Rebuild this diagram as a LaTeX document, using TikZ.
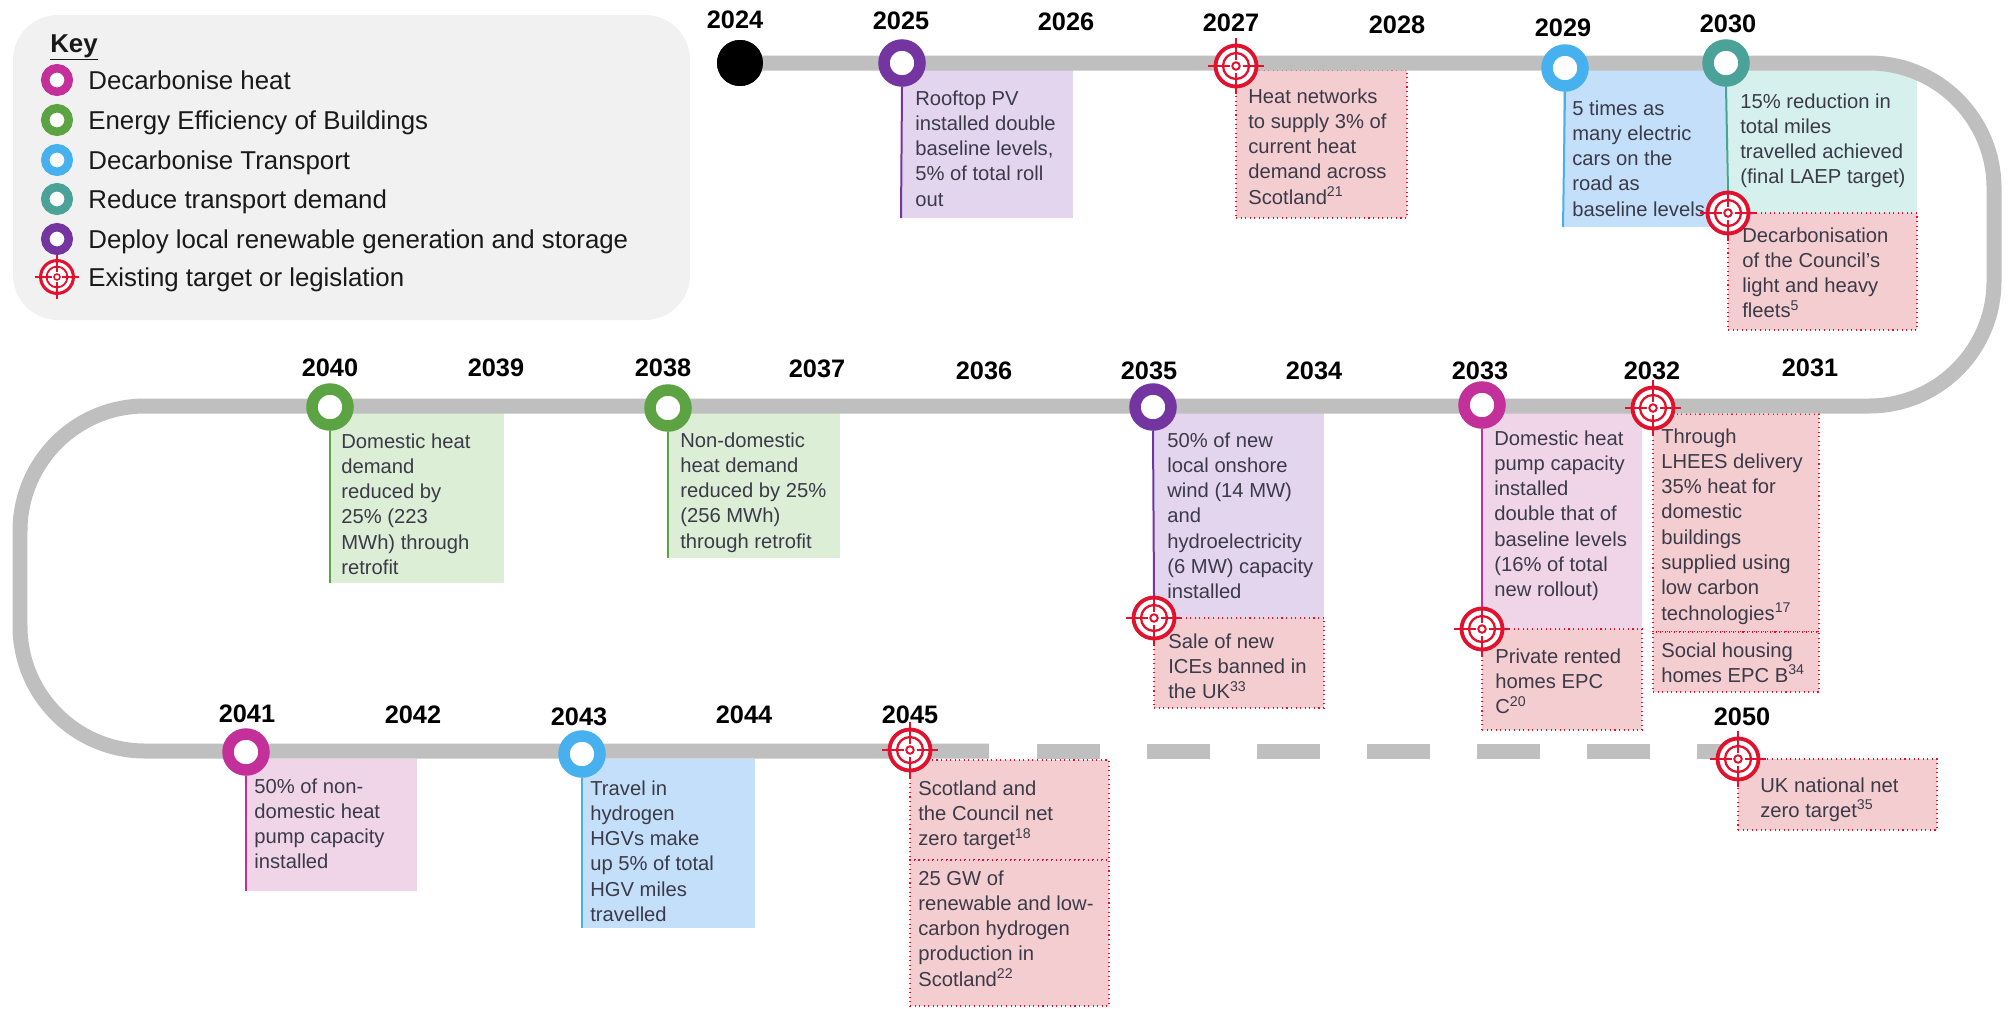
\documentclass[tikz,border=0pt]{standalone}
\usepackage{fontspec}
\setmainfont{Liberation Sans}
\usetikzlibrary{fit}

\definecolor{track}{HTML}{BFBFBF}
\definecolor{cpur}{HTML}{7535A0}
\definecolor{cmag}{HTML}{C3309A}
\definecolor{cgrn}{HTML}{5CA443}
\definecolor{cblu}{HTML}{47B1EF}
\definecolor{ctea}{HTML}{4BA299}
\definecolor{tred}{HTML}{E1122D}
\definecolor{fpur}{HTML}{E4D5EF}
\definecolor{fmag}{HTML}{F0D5E8}
\definecolor{fgrn}{HTML}{DDEED7}
\definecolor{fblu}{HTML}{C4DFFA}
\definecolor{ftea}{HTML}{D6F0ED}
\definecolor{fred}{HTML}{F4CDD0}
\definecolor{keybg}{HTML}{F1F1F1}
\definecolor{txtc}{HTML}{3A3A48}

\tikzset{
  yr/.style={font=\fontsize{14.4}{16}\selectfont\bfseries, anchor=base, inner sep=0},
  ring/.style={circle, draw=#1, line width=0.23cm, fill=white, minimum size=0.72cm, inner sep=0},
  krng/.style={circle, draw=#1, line width=0.17cm, fill=white, minimum size=0.47cm, inner sep=0},
  cbox/.style={fill=#1, draw=none, inner sep=0, outer sep=0},
  tbox/.style={fill=fred, draw=tred, dotted, line width=0.6pt, inner sep=0, outer sep=0},
  bt/.style={font=\fontsize{11.5}{14.4}\selectfont, text=txtc, align=left, anchor=north west, inner sep=0},
  kt/.style={font=\fontsize{14.7}{17}\selectfont, text=black!90, anchor=base west, inner sep=0},
  stem/.style={line width=0.04cm, draw=#1},
  trk/.style={draw=track, line width=0.3cm},
}

\newcommand{\tgt}[3][1]{%
  \node[circle, inner sep=0, minimum size=#1*0.82cm, draw=tred, line width=#1*2.2pt, fill=white] (#2) at (#3) {};
  \draw[tred, line width=#1*1.3pt] (#2.center) circle[radius=#1*0.26cm];
  \draw[tred, line width=#1*1.1pt] (#2.center) circle[radius=#1*0.075cm];
  \draw[tred, line width=#1*1.4pt]
    ([xshift=-#1*0.56cm]#2.center) -- ([xshift=-#1*0.13cm]#2.center)
    ([xshift=#1*0.13cm]#2.center) -- ([xshift=#1*0.56cm]#2.center)
    ([yshift=-#1*0.56cm]#2.center) -- ([yshift=-#1*0.13cm]#2.center)
    ([yshift=#1*0.13cm]#2.center) -- ([yshift=#1*0.56cm]#2.center);
}

\begin{document}
\begin{tikzpicture}[x=0.02cm, y=-0.02cm]
\useasboundingbox (0,0) rectangle (2011,1008);

% ---------- Key ----------
\node[fill=keybg, rounded corners=0.9cm, inner sep=0, fit={(13,15)(690,320)}] (keybox) {};
\node[kt, font=\fontsize{14.7}{17}\selectfont\bfseries] (keyt) at (50,52) {\underline{Key}};
\node[krng=cmag] (k1) at (57,80) {};
\node[krng=cgrn] (k2) at (57,120) {};
\node[krng=cblu] (k3) at (57,160) {};
\node[krng=ctea] (k4) at (57,199) {};
\node[krng=cpur] (k5) at (57,239) {};
\tgt[0.8]{k6}{57,277}
\node[kt] (kl1) at (88,89) {Decarbonise heat};
\node[kt] (kl2) at (88,129) {Energy Efficiency of Buildings};
\node[kt] (kl3) at (88,169) {Decarbonise Transport};
\node[kt] (kl4) at (88,208) {Reduce transport demand};
\node[kt] (kl5) at (88,248) {Deploy local renewable generation and storage};
\node[kt] (kl6) at (88,286) {Existing target or legislation};

% ---------- Boxes ----------
\node[cbox=fpur, fit={(901,70)(1073,218)}] (b2025) {};
\node[tbox, fit={(1236,70)(1407,218)}] (b2027) {};
\node[cbox=fblu, fit={(1563,70)(1726,227)}] (b2029) {};
\node[cbox=ftea, fit={(1726,70)(1917,213)}] (b2030a) {};
\node[tbox, fit={(1728,213)(1917,330)}] (b2030b) {};
\node[tbox, fit={(1653,414)(1819,632)}] (b2032a) {};
\node[tbox, fit={(1653,632)(1819,692)}] (b2032b) {};
\node[cbox=fmag, fit={(1482,413)(1642,629)}] (b2033a) {};
\node[tbox, fit={(1482,629)(1642,730)}] (b2033b) {};
\node[cbox=fpur, fit={(1153,413)(1324,618)}] (b2035a) {};
\node[tbox, fit={(1154,618)(1324,708)}] (b2035b) {};
\node[cbox=fgrn, fit={(668,413)(840,558)}] (b2038) {};
\node[cbox=fgrn, fit={(330,413)(504,583)}] (b2040) {};
\node[cbox=fmag, fit={(246,759)(417,891)}] (b2041) {};
\node[cbox=fblu, fit={(582,759)(755,928)}] (b2043) {};
\node[tbox, fit={(910,760)(1109,860)}] (b2045a) {};
\node[tbox, fit={(910,860)(1109,1006)}] (b2045b) {};
\node[tbox, fit={(1738,759)(1937,830)}] (b2050) {};

% ---------- Box texts ----------
\node[bt] (x2025) at (915,87) {\strut Rooftop PV\\installed double\\baseline levels,\\5\% of total roll\\out};
\node[bt] (x2027) at (1248,85) {\strut Heat networks\\to supply 3\% of\\current heat\\demand across\\Scotland\textsuperscript{21}};
\node[bt] (x2029) at (1572,97) {\strut 5 times as\\many electric\\cars on the\\road as\\baseline levels};
\node[bt] (x2030a) at (1740,90) {\strut 15\% reduction in\\total miles\\travelled achieved\\(final LAEP target)};
\node[bt] (x2030b) at (1742,224) {\strut Decarbonisation\\of the Council's\\light and heavy\\fleets\textsuperscript{5}};
\node[bt] (x2032a) at (1661,425) {\strut Through\\LHEES delivery\\35\% heat for\\domestic\\buildings\\supplied using\\low carbon\\technologies\textsuperscript{17}};
\node[bt] (x2032b) at (1661,639) {\strut Social housing\\homes EPC B\textsuperscript{34}};
\node[bt] (x2033a) at (1494,427) {\strut Domestic heat\\pump capacity\\installed\\double that of\\baseline levels\\(16\% of total\\new rollout)};
\node[bt] (x2033b) at (1495,645) {\strut Private rented\\homes EPC\\C\textsuperscript{20}};
\node[bt] (x2035a) at (1167,429) {\strut 50\% of new\\local onshore\\wind (14 MW)\\and\\hydroelectricity\\(6 MW) capacity\\installed};
\node[bt] (x2035b) at (1168,630) {\strut Sale of new\\ICEs banned in\\the UK\textsuperscript{33}};
\node[bt] (x2038) at (680,429) {\strut Non-domestic\\heat demand\\reduced by 25\%\\(256 MWh)\\through retrofit};
\node[bt] (x2040) at (341,430) {\strut Domestic heat\\demand\\reduced by\\25\% (223\\MWh) through\\retrofit};
\node[bt] (x2041) at (254,775) {\strut 50\% of non-\\domestic heat\\pump capacity\\installed};
\node[bt] (x2043) at (590,777) {\strut Travel in\\hydrogen\\HGVs make\\up 5\% of total\\HGV miles\\travelled};
\node[bt] (x2045a) at (918,777) {\strut Scotland and\\the Council net\\zero target\textsuperscript{18}};
\node[bt] (x2045b) at (918,867) {\strut 25 GW of\\renewable and low-\\carbon hydrogen\\production in\\Scotland\textsuperscript{22}};
\node[bt] (x2050) at (1760,774) {\strut UK national net\\zero target\textsuperscript{35}};

% ---------- Track ----------
\coordinate (c1) at (1994,63);
\coordinate (c2) at (1994,406);
\coordinate (c3) at (20,406);
\coordinate (c4) at (20,751);
\coordinate (c5) at (989,751);
\coordinate (c6) at (1037,751);
\coordinate (c7) at (1745,751);
\node[circle, fill=black, minimum size=0.92cm, inner sep=0] (d2024) at (740,63) {};
\draw[trk, rounded corners=2.5cm] (d2024.center) -- (c1) -- (c2) -- (c3) -- (c4) -- (c5);
\draw[trk, dash pattern=on 1.26cm off 0.94cm] (c6) -- (c7);
\node[circle, fill=black, minimum size=0.92cm, inner sep=0] at (d2024.center) {};

% ---------- Rings and targets ----------
\node[ring=cpur] (r2025) at (902,63) {};
\node[ring=cblu] (r2029) at (1565,68) {};
\node[ring=ctea] (r2030) at (1726,63) {};
\node[ring=cmag] (r2033) at (1482,405) {};
\node[ring=cpur] (r2035) at (1153,407) {};
\node[ring=cgrn] (r2038) at (668,408) {};
\node[ring=cgrn] (r2040) at (330,407) {};
\node[ring=cmag] (r2041) at (246,752) {};
\node[ring=cblu] (r2043) at (582,754) {};

\begin{scope}[on background layer/.try]
\end{scope}
\tgt{t2027}{1236,66}
\tgt{t2030}{1728,213}
\tgt{t2032}{1653,408}
\tgt{t2033}{1482,629}
\tgt{t2035}{1154,618}
\tgt{t2045}{910,750}
\tgt{t2050}{1738,759}

% ---------- Stems ----------
\begin{scope}
\draw[stem=cpur] (r2025.south) -- (b2025.south west);
\draw[stem=cblu] (r2029.south) -- (b2029.south west);
\draw[stem=ctea] (r2030.south) -- (t2030.north);
\draw[stem=cmag] (r2033.south) -- (t2033.north);
\draw[stem=cpur] (r2035.south) -- (t2035.north);
\draw[stem=cgrn] (r2038.south) -- (b2038.south west);
\draw[stem=cgrn] (r2040.south) -- (b2040.south west);
\draw[stem=cmag] (r2041.south) -- (b2041.south west);
\draw[stem=cblu] (r2043.south) -- (b2043.south west);
\end{scope}

% ---------- Years ----------
\node[yr] (y2024) at (735,28) {2024};
\node[yr] (y2025) at (901,29) {2025};
\node[yr] (y2026) at (1066,30) {2026};
\node[yr] (y2027) at (1231,31) {2027};
\node[yr] (y2028) at (1397,33) {2028};
\node[yr] (y2029) at (1563,36) {2029};
\node[yr] (y2030) at (1728,32) {2030};
\node[yr] (y2031) at (1810,376) {2031};
\node[yr] (y2032) at (1652,379) {2032};
\node[yr] (y2033) at (1480,379) {2033};
\node[yr] (y2034) at (1314,379) {2034};
\node[yr] (y2035) at (1149,379) {2035};
\node[yr] (y2036) at (984,379) {2036};
\node[yr] (y2037) at (817,377) {2037};
\node[yr] (y2038) at (663,376) {2038};
\node[yr] (y2039) at (496,376) {2039};
\node[yr] (y2040) at (330,376) {2040};
\node[yr] (y2041) at (247,722) {2041};
\node[yr] (y2042) at (413,723) {2042};
\node[yr] (y2043) at (579,725) {2043};
\node[yr] (y2044) at (744,723) {2044};
\node[yr] (y2045) at (910,723) {2045};
\node[yr] (y2050) at (1742,725) {2050};
\end{tikzpicture}
\end{document}
